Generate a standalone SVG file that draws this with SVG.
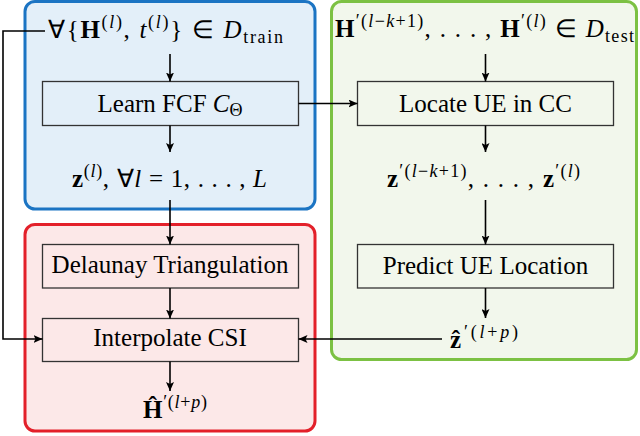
<svg xmlns="http://www.w3.org/2000/svg" width="640" height="436" viewBox="0 0 640 436">
<defs>
<marker id="ah" markerWidth="9" markerHeight="8" refX="9" refY="4" orient="auto" markerUnits="userSpaceOnUse">
<path d="M0,0 L9,4 L0,8 L2,4 z" fill="#000"/>
</marker>
<style>
text{font-family:"Liberation Serif",serif;font-size:25px;fill:#000}
.m{text-anchor:middle}
.b{font-weight:bold}
.i{font-style:italic}
.s{font-size:18px}
.box{stroke:#333;stroke-width:1.3}
.c{fill:none;stroke:#000;stroke-width:1.6}
</style>
</defs>
<g id="panel-train">
<rect x="25" y="1.5" width="290" height="207.5" rx="10" fill="#e3eff9" stroke="#1b74c3" stroke-width="3"/>
</g>
<g id="panel-test">
<rect x="331.5" y="1.5" width="305" height="358" rx="10" fill="#f2f7ec" stroke="#7cc143" stroke-width="3"/>
</g>
<g id="panel-interp">
<rect x="25" y="224.5" width="290" height="206.5" rx="10" fill="#fce8e8" stroke="#e3202a" stroke-width="3"/>
</g>
<g id="train-data">
<text class="m" x="165.5" y="38" textLength="235" lengthAdjust="spacing">∀{<tspan class="b">H</tspan><tspan class="s" dy="-10">(<tspan class="i">l</tspan>)</tspan><tspan dy="10">, </tspan><tspan class="i">t</tspan><tspan class="s" dy="-10">(<tspan class="i">l</tspan>)</tspan><tspan dy="10">} ∈ </tspan><tspan class="i">D</tspan><tspan class="s" dy="5">train</tspan></text>
</g>
<g id="learn-fcf">
<rect class="box" x="42.5" y="81.5" width="256" height="44" fill="#e3eff9"/>
<text class="m" x="170" y="112">Learn FCF <tspan class="i">C</tspan><tspan class="s" dy="4">Θ</tspan></text>
</g>
<g id="train-z">
<text class="m" x="169.5" y="187" textLength="195" lengthAdjust="spacing"><tspan class="b">z</tspan><tspan class="s" dy="-10">(<tspan class="i">l</tspan>)</tspan><tspan dy="10">, ∀</tspan><tspan class="i">l</tspan><tspan> = 1, . . . , </tspan><tspan class="i">L</tspan></text>
</g>
<g id="test-data">
<text class="m" x="484.5" y="37" textLength="299" lengthAdjust="spacing"><tspan class="b">H</tspan><tspan dy="-10" class="s">′(<tspan class="i">l</tspan>−<tspan class="i">k</tspan>+1)</tspan><tspan dy="10">, . . . , </tspan><tspan class="b">H</tspan><tspan class="s" dy="-10">′(<tspan class="i">l</tspan>)</tspan><tspan dy="10"> ∈ </tspan><tspan class="i">D</tspan><tspan class="s" dy="5">test</tspan></text>
</g>
<g id="locate-ue">
<rect class="box" x="357.5" y="81.5" width="256" height="44" fill="#f2f7ec"/>
<text class="m" x="485.5" y="112">Locate UE in CC</text>
</g>
<g id="test-z">
<text class="m" x="483.5" y="187" textLength="193" lengthAdjust="spacing"><tspan class="b">z</tspan><tspan dy="-10" class="s">′(<tspan class="i">l</tspan>−<tspan class="i">k</tspan>+1)</tspan><tspan dy="10">, . . . , </tspan><tspan class="b">z</tspan><tspan class="s" dy="-10">′(<tspan class="i">l</tspan>)</tspan></text>
</g>
<g id="predict-ue">
<rect class="box" x="357.5" y="244.5" width="256" height="43.5" fill="#f2f7ec"/>
<text class="m" x="485.5" y="274">Predict UE Location</text>
</g>
<g id="z-hat">
<text class="m" x="484" y="348" textLength="68" lengthAdjust="spacing"><tspan class="b">ẑ</tspan><tspan class="s" dy="-10">′(<tspan class="i">l</tspan>+<tspan class="i">p</tspan>)</tspan></text>
</g>
<g id="delaunay">
<rect class="box" x="42.5" y="244.5" width="256" height="43.5" fill="#fce8e8"/>
<text class="m" x="170" y="273">Delaunay Triangulation</text>
</g>
<g id="interpolate">
<rect class="box" x="42.5" y="318.5" width="256" height="43" fill="#fce8e8"/>
<text class="m" x="170" y="346">Interpolate CSI</text>
</g>
<g id="h-hat">
<text class="m" x="175" y="418" textLength="64" lengthAdjust="spacing"><tspan class="b">Ĥ</tspan><tspan class="s" dy="-10">′(<tspan class="i">l</tspan>+<tspan class="i">p</tspan>)</tspan></text>
</g>
<g id="connectors">
<line class="c" x1="170" y1="54" x2="170" y2="81.5" marker-end="url(#ah)"/>
<line class="c" x1="170" y1="125.5" x2="170" y2="152" marker-end="url(#ah)"/>
<line class="c" x1="170" y1="200" x2="170" y2="244.5" marker-end="url(#ah)"/>
<line class="c" x1="170" y1="288" x2="170" y2="318.5" marker-end="url(#ah)"/>
<line class="c" x1="170" y1="361.5" x2="170" y2="391" marker-end="url(#ah)"/>
<line class="c" x1="485.5" y1="54" x2="485.5" y2="81.5" marker-end="url(#ah)"/>
<line class="c" x1="485.5" y1="125.5" x2="485.5" y2="152" marker-end="url(#ah)"/>
<line class="c" x1="485.5" y1="200" x2="485.5" y2="244.5" marker-end="url(#ah)"/>
<line class="c" x1="485.5" y1="288" x2="485.5" y2="318" marker-end="url(#ah)"/>
<line class="c" x1="298.5" y1="103.5" x2="357.5" y2="103.5" marker-end="url(#ah)"/>
<polyline class="c" points="45,31 3,31 3,339 42.5,339" marker-end="url(#ah)"/>
<line class="c" x1="442" y1="339" x2="298.5" y2="339" marker-end="url(#ah)"/>
</g>
</svg>
